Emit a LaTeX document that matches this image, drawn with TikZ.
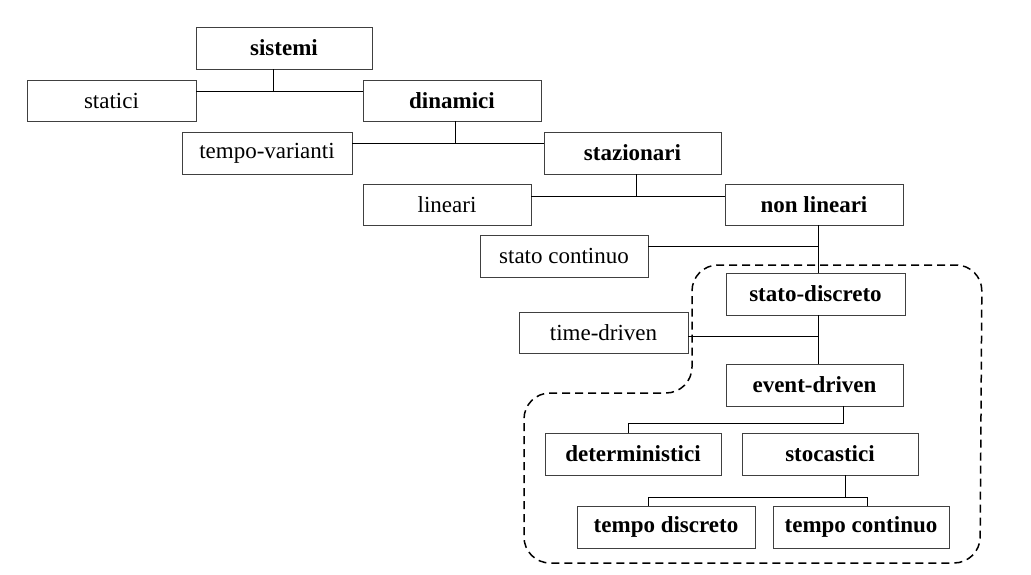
\documentclass[tikz,border=0pt]{standalone}
\usepackage{fontspec}
\setmainfont{Liberation Serif}
\begin{document}
\begin{tikzpicture}[x=1pt,y=-1pt,
  box/.style={draw=black!75, line width=0.9pt, minimum height=42pt, inner sep=0pt, font=\fontsize{23}{25}\selectfont},
  bbox/.style={box, font=\fontsize{23}{25}\selectfont\bfseries},
  conn/.style={draw=black, line width=0.9pt},
  region/.style={draw=black, line width=1.5pt, dash pattern=on 8pt off 5pt, rounded corners=26pt}]
\useasboundingbox (0,0) rectangle (1031,575);
\node[bbox, minimum width=176pt] (sistemi) at (284,48) {sistemi};
\node[box,  minimum width=169pt, minimum height=41pt] (statici) at (111.5,100.5) {statici};
\node[bbox, minimum width=178pt, minimum height=41pt] (dinamici) at (452,100.5) {dinamici};
\node[box,  minimum width=170pt] (tvar) at (267,153) {tempo-varianti};
\node[bbox, minimum width=177pt] (staz) at (632.5,153) {stazionari};
\node[box,  minimum width=168pt, minimum height=41pt] (lin) at (447,204.5) {lineari};
\node[bbox, minimum width=178pt, minimum height=41pt] (nonlin) at (814,204.5) {non lineari};
\node[box,  minimum width=168pt] (scont) at (564,256) {stato continuo};
\node[bbox, minimum width=179pt] (sdisc) at (815.5,294) {stato-discreto};
\node[box,  minimum width=169pt, minimum height=41pt] (tdriv) at (603.5,332.5) {time-driven};
\node[bbox, minimum width=177pt] (edriv) at (814.5,385) {event-driven};
\node[bbox, minimum width=176pt] (det) at (633,454) {deterministici};
\node[bbox, minimum width=176pt] (stoc) at (830,454) {stocastici};
\node[bbox, minimum width=178pt] (tdisc) at (666,527) {tempo discreto};
\node[bbox, minimum width=176pt] (tcont) at (861,527) {tempo continuo};

% junctions
\coordinate (j1) at (273,91);
\coordinate (j2) at (455,143);
\coordinate (j3) at (636,196);
\coordinate (j4) at (818,246);
\coordinate (j5) at (818,336);
\coordinate (j6) at (843,423);
\coordinate (j6l) at (628,423);
\coordinate (j7) at (845,497);
\coordinate (j7l) at (648,497);
\coordinate (j7r) at (867,497);

\draw[conn] (statici.east |- j1) -- (dinamici.west |- j1);
\draw[conn] (sistemi.south -| j1) -- (j1);
\draw[conn] (tvar.east |- j2) -- (staz.west |- j2);
\draw[conn] (dinamici.south -| j2) -- (j2);
\draw[conn] (lin.east |- j3) -- (nonlin.west |- j3);
\draw[conn] (staz.south -| j3) -- (j3);
\draw[conn] (nonlin.south -| j4) -- (sdisc.north -| j4);
\draw[conn] (scont.east |- j4) -- (j4);
\draw[conn] (sdisc.south -| j5) -- (edriv.north -| j5);
\draw[conn] (tdriv.east |- j5) -- (j5);
\draw[conn] (edriv.south -| j6) -- (j6) -- (j6l) -- (det.north -| j6l);
\draw[conn] (stoc.south -| j7) -- (j7);
\draw[conn] (tdisc.north -| j7l) -- (j7l) -- (j7r) -- (tcont.north -| j7r);

% dashed region
\draw[region] (692,330) -- (692,265) -- (982,265) -- (980,563) -- (524,563) -- (524,393) -- (692,393) -- cycle;
\end{tikzpicture}
\end{document}
